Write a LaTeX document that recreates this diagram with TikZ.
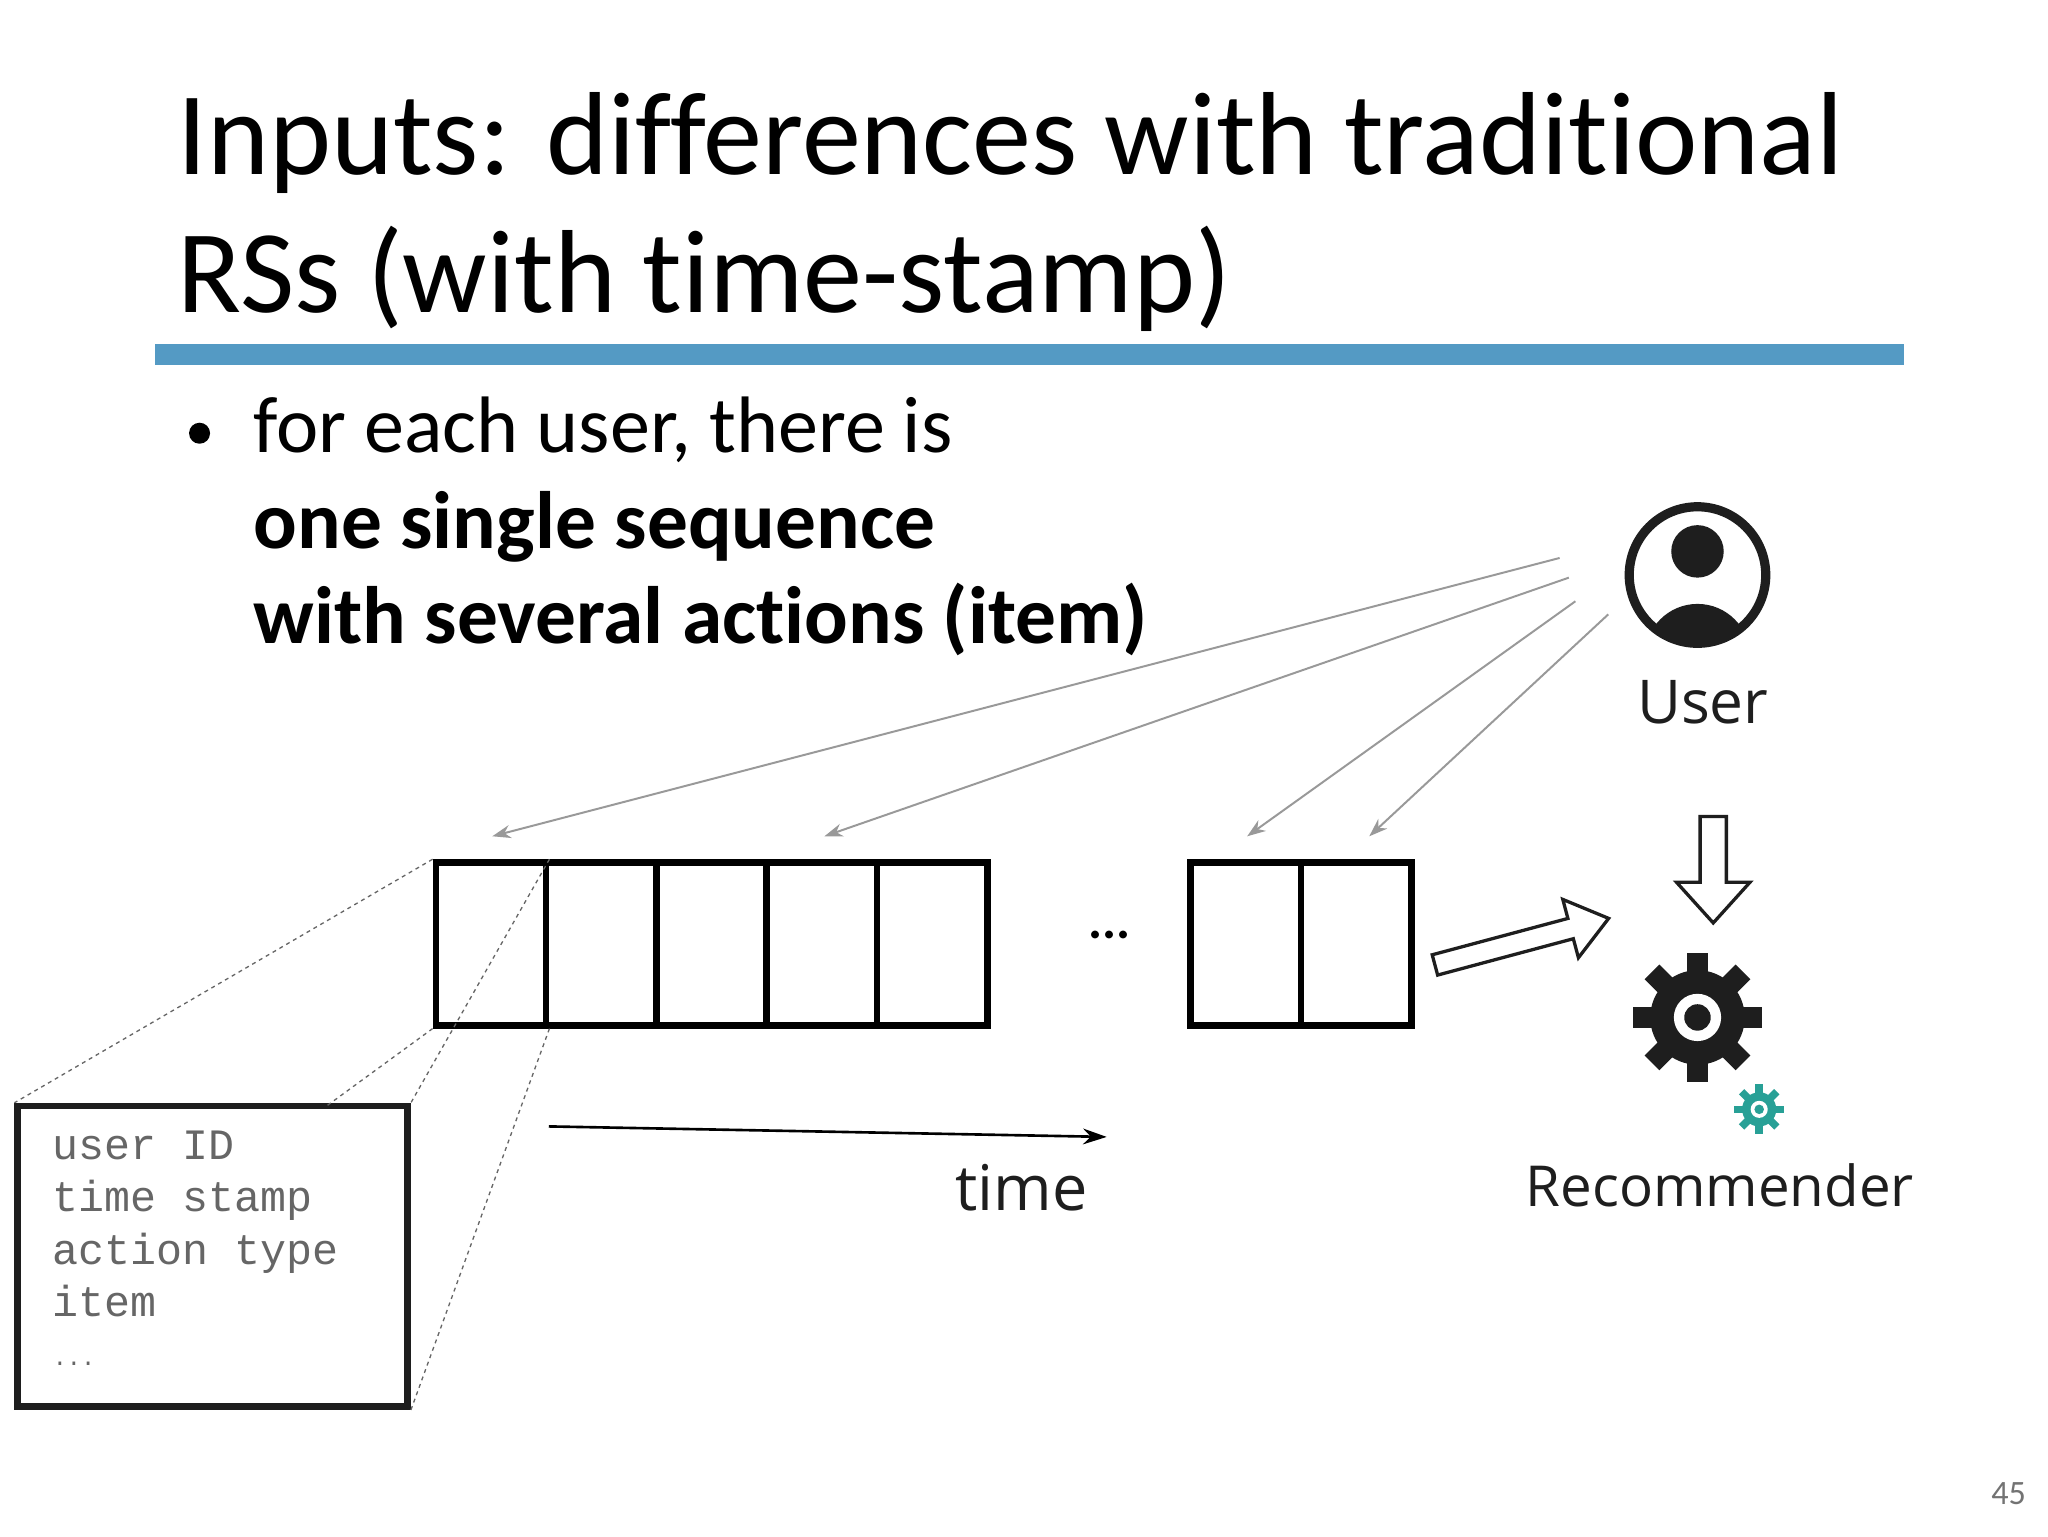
\documentclass[tikz,border=0pt]{standalone}
\usepackage{fontspec}
\setmainfont{Carlito}[Ligatures=NoCommon]
\newfontfamily\uifont{Open Sans}
\newfontfamily\monofont{Liberation Mono}
\usetikzlibrary{arrows.meta,calc}
\definecolor{barblue}{RGB}{84,154,196}
\definecolor{gearteal}{RGB}{40,160,150}
\definecolor{dk}{RGB}{30,30,30}
\tikzset{
  cell/.style={draw=black,line width=5pt,minimum width=84pt,minimum height=124pt,inner sep=0pt},
  grayarr/.style={draw=gray!80,line width=1.5pt,-{Stealth[length=14pt,width=10pt]}},
  dashln/.style={draw=black!60,dashed,line width=1pt},
  hollow/.style={draw=dk,line width=2.5pt,fill=white},
  mono/.style={font=\monofont\fontsize{33}{33}\selectfont,text=black!60,anchor=base west,inner sep=0pt}
}
\newcommand{\mygear}[5]{%
  \fill[#5] (#1,#2) circle (#3);
  \foreach \a in {0,45,...,315}{
    \fill[#5,rotate around={\a:(#1,#2)}] ($(#1,#2)+(-0.22*#3,0)$) rectangle ($(#1,#2)+(0.22*#3,#4)$);
  }
  \fill[white] (#1,#2) circle (0.5*#3);
  \fill[#5] (#1,#2) circle (0.28*#3);
}
\begin{document}
\begin{tikzpicture}[x=1pt,y=-1pt]
\useasboundingbox (0,0) rectangle (1560,1170);
\fill[white] (0,0) rectangle (1560,1170);
% title
\node[anchor=base west,inner sep=0pt,font=\fontsize{90}{90}\selectfont] (t1) at (135,133) {Inputs: differences with traditional};
\node[anchor=base west,inner sep=0pt,font=\fontsize{90}{90}\selectfont] (t2) at (135,238) {RSs (with time-stamp)};
\fill[barblue] (118,262) rectangle (1450,278);
% bullet
\fill (152,330) circle (8);
\node[anchor=base west,inner sep=0pt,font=\fontsize{61}{61}\selectfont] (b1) at (193,345) {for each user, there is};
\node[anchor=base west,inner sep=0pt,font=\bfseries\fontsize{62}{62}\selectfont] (b2) at (193,418) {one single sequence};
\node[anchor=base west,inner sep=0pt,font=\bfseries\fontsize{62}{62}\selectfont] (b3) at (193,490) {with several actions (item)};
% cells
\foreach \i in {0,...,4}{\node[cell] (c\i) at (374+84*\i,719) {};}
\node[cell] (d0) at (949,719) {};
\node[cell] (d1) at (1033,719) {};
\node[font=\bfseries\fontsize{40}{40}\selectfont] (dots) at (845,712) {...};
% user icon
\coordinate (uc) at (1293,438);
\draw[dk,line width=7pt] (uc) circle (52);
\begin{scope}
\clip (uc) circle (49);
\fill[dk] (1293,420) circle (20);
\fill[dk] (1293,500) circle (40);
\end{scope}
\node[font=\uifont\fontsize{46}{46}\selectfont,text=dk] (user) at (1297,535) {User};
% gray arrows
\coordinate (s1) at (1188,425); \coordinate (s2) at (1195,440);
\coordinate (s3) at (1200,458); \coordinate (s4) at (1225,468);
\coordinate (e1) at (375,637); \coordinate (e2) at (628,637);
\coordinate (e3) at (950,637); \coordinate (e4) at (1043,637);
\draw[grayarr] (s1) -- (e1);
\draw[grayarr] (s2) -- (e2);
\draw[grayarr] (s3) -- (e3);
\draw[grayarr] (s4) -- (e4);
% hollow down arrow
\draw[hollow] (1295,622) -- (1315,622) -- (1315,672) -- (1333,672) -- (1305,703) -- (1277,672) -- (1295,672) -- cycle;
% hollow right arrow
\draw[hollow,rotate around={15:(1093,735)}] (1093,727) -- (1200,727) -- (1200,712) -- (1230,735) -- (1200,758) -- (1200,743) -- (1093,743) -- cycle;
% gears
\mygear{1293}{775}{36}{49}{dk}
\mygear{1340}{845}{13}{19}{gearteal}
\node[font=\uifont\fontsize{43}{43}\selectfont,text=dk] (rec) at (1310,903) {Recommender};
% time
\coordinate (ta) at (418,858); \coordinate (tb) at (843,866);
\draw[line width=2pt,-{Stealth[length=18pt,width=12pt]}] (ta) -- (tb);
\node[font=\uifont\fontsize{48}{48}\selectfont,text=dk] (time) at (778,905) {time};
% detail box
\node[draw=dk,line width=5pt,minimum width=297pt,minimum height=229pt,inner sep=0pt] (det) at (162,957) {};
\node[mono] (m1) at (40,883) {user ID};
\node[mono] (m2) at (40,923) {time stamp};
\node[mono] (m3) at (40,963) {action type};
\node[mono] (m4) at (40,1003) {item};
\node[mono,font=\monofont\fontsize{18}{18}\selectfont] (m5) at (40,1040) {...};
% dashed connectors
\coordinate (dt) at (248,843);
\draw[dashln] (c0.north west) -- (det.north west);
\draw[dashln] (c0.south west) -- (dt);
\draw[dashln] (c0.north east) -- (det.north east);
\draw[dashln] (c0.south east) -- (det.south east);
% page number
\node[font=\fontsize{26}{26}\selectfont,text=black!55] (pg) at (1530,1138) {45};
\end{tikzpicture}
\end{document}
